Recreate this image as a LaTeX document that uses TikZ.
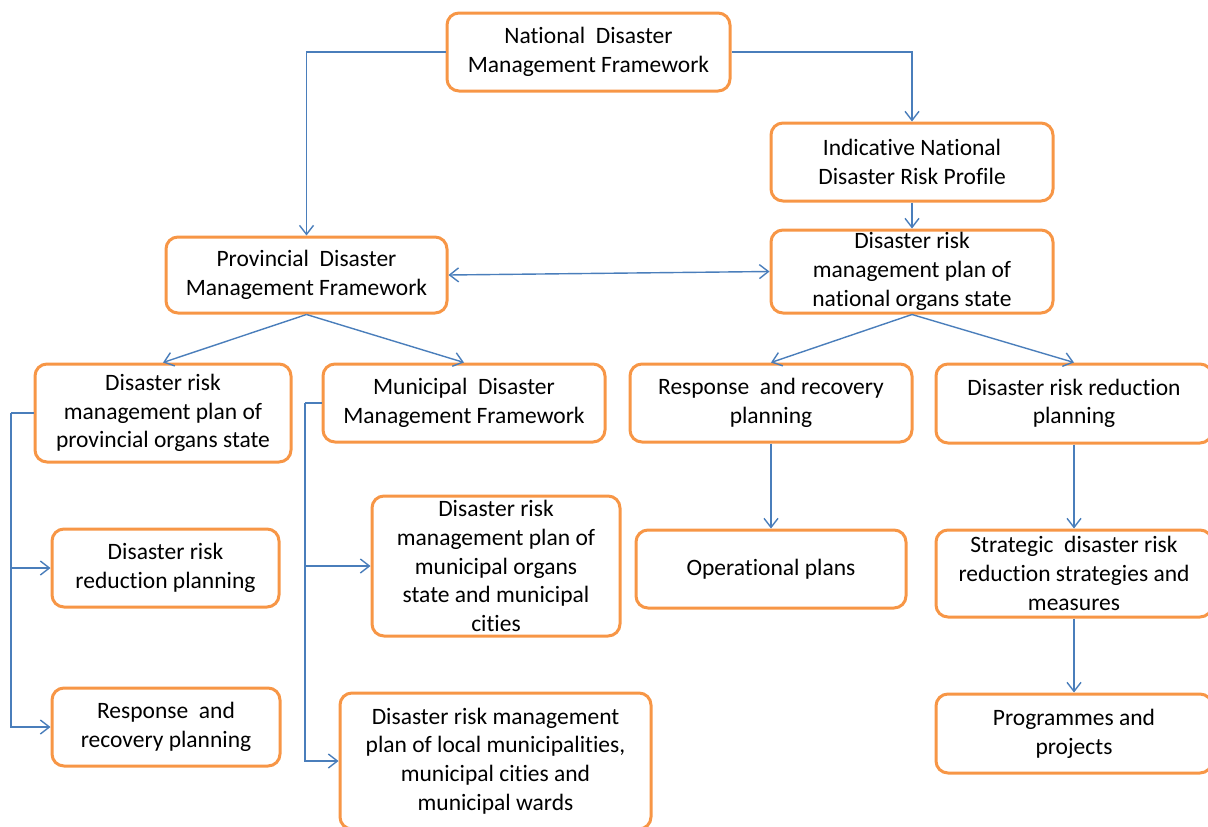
\documentclass[tikz,border=0pt]{standalone}
\usepackage{fontspec}
\setmainfont{Carlito}[Ligatures=CommonOff]
\usetikzlibrary{arrows.meta}

\definecolor{boxorange}{HTML}{F79646}
\definecolor{linkblue}{HTML}{4A7EBB}

\tikzset{
  box/.style={draw=boxorange, line width=3pt, rounded corners=12pt, fill=white,
    align=center, inner sep=0pt, text=black,
    font=\fontsize{23.5}{28.7}\selectfont},
  link/.style={draw=linkblue, line width=1.4pt,
    -{Straight Barb[length=9pt,width=14pt,line width=1.4pt]}},
  twolink/.style={draw=linkblue, line width=1.4pt,
    {Straight Barb[length=9pt,width=14pt,line width=1.4pt]}-{Straight Barb[length=9pt,width=14pt,line width=1.4pt]}},
  plain/.style={draw=linkblue, line width=1.4pt}
}

\begin{document}
\begin{tikzpicture}[x=1pt, y=-1pt]
  \useasboundingbox (0,0) rectangle (1208,827);

  % top level
  \node[box, minimum width=283pt, minimum height=78pt] (nat) at (588.5,52)
    {National~ Disaster\\Management Framework};
  \node[box, minimum width=282pt, minimum height=78pt] (ind) at (912,162)
    {Indicative National\\Disaster Risk Profile};
  \node[box, minimum width=282pt, minimum height=83pt] (drmn) at (912,271.5)
    {Disaster risk\\management plan of\\national organs state};
  \node[box, minimum width=281pt, minimum height=76pt] (prov) at (306.5,275)
    {Provincial~ Disaster\\Management Framework};

  % second level
  \node[box, minimum width=256pt, minimum height=98pt] (drmp) at (163,413)
    {Disaster risk\\management plan of\\provincial organs state};
  \node[box, minimum width=282pt, minimum height=78pt] (mun) at (464,403)
    {Municipal~ Disaster\\Management Framework};
  \node[box, minimum width=282pt, minimum height=78pt] (rrr) at (771,403)
    {Response~ and recovery\\planning};
  \node[box, minimum width=276pt, minimum height=79pt] (drrr) at (1074,403.5)
    {Disaster risk reduction\\planning};

  % third level
  \node[box, minimum width=227pt, minimum height=78pt] (drrl) at (165.5,568)
    {Disaster risk\\reduction planning};
  \node[box, minimum width=248pt, minimum height=140pt] (drmm) at (496,566)
    {Disaster risk\\management plan of\\municipal organs\\state and municipal\\cities};
  \node[box, minimum width=270pt, minimum height=78pt] (op) at (771,569)
    {Operational plans};
  \node[box, minimum width=276pt, minimum height=87pt] (strat) at (1074,573.5)
    {Strategic~ disaster risk\\reduction strategies and\\measures};

  % fourth level
  \node[box, minimum width=228pt, minimum height=78pt] (rrl) at (166,727)
    {Response~ and\\recovery planning};
  \node[box, minimum width=311pt, minimum height=136pt] (drml) at (495.5,761)
    {Disaster risk management\\plan of local municipalities,\\municipal cities and\\municipal wards};
  \node[box, minimum width=276pt, minimum height=79pt] (prog) at (1074,733.5)
    {Programmes and\\projects};

  % bracket corners
  \coordinate (lb) at (11,413);
  \coordinate (mb) at (305,403);

  % connectors
  \draw[link] (nat.west) -| (prov.north);
  \draw[link] (nat.east) -| (ind.north);
  \draw[link] (ind.south) -- (drmn.north);
  \draw[twolink] (prov.east) -- (drmn.west);

  \draw[link] (prov.south) -- (drmp.north);
  \draw[link] (prov.south) -- (mun.north);
  \draw[link] (drmn.south) -- (rrr.north);
  \draw[link] (drmn.south) -- (drrr.north);

  \draw[link] (rrr.south) -- (op.north);
  \draw[link] (drrr.south) -- (strat.north);
  \draw[link] (strat.south) -- (prog.north);

  % provincial plan branches
  \draw[plain] (drmp.west) -- (lb);
  \draw[link] (lb) |- (rrl.west);
  \draw[link] (lb |- drrl.west) -- (drrl.west);

  % municipal framework branches
  \draw[plain] (mun.west) -- (mb);
  \draw[link] (mb) |- (drml.west);
  \draw[link] (mb |- drmm.west) -- (drmm.west);
\end{tikzpicture}
\end{document}
